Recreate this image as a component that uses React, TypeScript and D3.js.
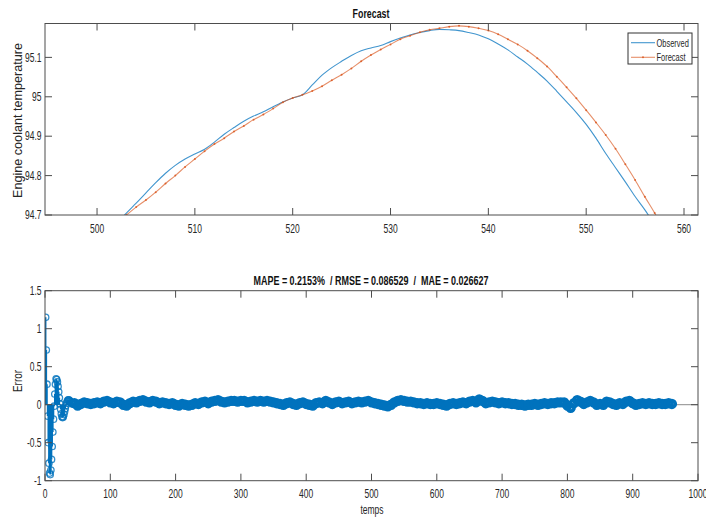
import React from 'react';
import * as d3 from 'd3';

const topTitle = 'Forecast';
const topYLabel = 'Engine coolant temperature';
const bottomTitle = 'MAPE = 0.2153%  / RMSE = 0.086529  /  MAE = 0.026627';
const bottomXLabel = 'temps';
const bottomYLabel = 'Error';
const legendLabels = ['Observed', 'Forecast'];

const topXTicks = [500, 510, 520, 530, 540, 550, 560];
const topYTicks = [94.7, 94.8, 94.9, 95, 95.1];
const topYTickLabels = ['94.7', '94.8', '94.9', '95', '95.1'];
const botXTicks = [0, 100, 200, 300, 400, 500, 600, 700, 800, 900, 1000];
const botYTicks = [-1, -0.5, 0, 0.5, 1, 1.5];
const botYTickLabels = ['-1', '-0.5', '0', '0.5', '1', '1.5'];

// Observed, x = 502 .. 557
const obsStart = 502;
const observed = [
  94.678, 94.705, 94.73, 94.756, 94.782, 94.806, 94.826, 94.842, 94.855, 94.867,
  94.885, 94.905, 94.922, 94.938, 94.951, 94.962, 94.975, 94.987, 94.997, 95.005,
  95.03, 95.055, 95.074, 95.09, 95.105, 95.117, 95.124, 95.13, 95.14, 95.149,
  95.157, 95.163, 95.168, 95.171, 95.17, 95.168, 95.163, 95.157, 95.147, 95.134,
  95.119, 95.101, 95.083, 95.062, 95.04, 95.014, 94.987, 94.96, 94.93, 94.895,
  94.856, 94.82, 94.784, 94.747, 94.713, 94.675,
];

// Forecast, x = 502 .. 558
const fcStart = 502;
const forecast = [
  94.68, 94.7, 94.72, 94.738, 94.758, 94.78, 94.8, 94.822, 94.842, 94.862,
  94.88, 94.895, 94.912, 94.926, 94.942, 94.955, 94.97, 94.986, 94.997, 95.005,
  95.015, 95.027, 95.042, 95.056, 95.072, 95.09, 95.106, 95.12, 95.133, 95.146,
  95.155, 95.164, 95.17, 95.174, 95.178, 95.18, 95.178, 95.174, 95.168, 95.159,
  95.146, 95.133, 95.117, 95.098, 95.077, 95.051, 95.024, 94.996, 94.966, 94.935,
  94.903, 94.868, 94.829, 94.789, 94.746, 94.705, 94.66,
];

// Error: x = 1 .. 44 (every sample)
const errHeadStart = 1;
const errHead = [
  1.15, 0.72, 0.27, -0.15, -0.5, -0.77, -0.9, -0.92, -0.86, -0.72,
  -0.55, -0.36, -0.19, -0.02, 0.14, 0.27, 0.34, 0.33, 0.3, 0.24,
  0.17, 0.09, 0.01, -0.06, -0.12, -0.16, -0.17, -0.16, -0.13, -0.09,
  -0.05, -0.01, 0.02, 0.045, 0.06, 0.065, 0.06, 0.05, 0.04, 0.03,
  0.02, 0.01, 0.01, 0.015,
];
// Error: x = 45, 50, ..., 960
const errTailStart = 45;
const errTailStep = 5;
const errTail = [
  0.02, -0.01, 0.01, 0.03, 0.02, 0.01, 0.02, 0.03, 0.02, 0.04,
  0.05, 0.03, 0.02, 0.04, 0.03, 0.0, -0.01, 0.02, 0.04, 0.03,
  0.05, 0.06, 0.04, 0.03, 0.05, 0.04, 0.02, 0.03, 0.02, 0.01,
  0.02, 0.0, -0.01, 0.01, 0.0, -0.01, 0.0, 0.02, 0.01, 0.03,
  0.04, 0.02, 0.04, 0.05, 0.06, 0.04, 0.03, 0.04, 0.05, 0.05,
  0.04, 0.05, 0.05, 0.03, 0.04, 0.05, 0.04, 0.05, 0.04, 0.05,
  0.04, 0.03, 0.02, 0.01, 0.0, 0.02, 0.03, 0.01, 0.0, 0.02,
  0.03, 0.01, 0.0, -0.01, 0.02, 0.03, 0.02, 0.05, 0.03, 0.01,
  0.03, 0.04, 0.02, 0.03, 0.04, 0.02, 0.03, 0.04, 0.03, 0.04,
  0.05, 0.03, 0.02, 0.01, 0.0, -0.01, -0.02, 0.0, 0.03, 0.05,
  0.06, 0.05, 0.04, 0.04, 0.03, 0.02, 0.02, 0.01, 0.02, 0.01,
  0.01, 0.02, 0.01, 0.0, -0.01, 0.01, 0.02, 0.01, 0.02, 0.03,
  0.02, 0.04, 0.05, 0.03, 0.07, 0.05, 0.02, 0.03, 0.04, 0.03,
  0.02, 0.03, 0.02, 0.02, 0.01, 0.01, 0.0, 0.0, -0.01, 0.0,
  0.0, 0.01, 0.0, 0.01, 0.02, 0.01, 0.02, 0.02, 0.03, 0.03,
  0.03, -0.01, -0.04, 0.02, 0.06, 0.04, 0.01, 0.03, 0.05, 0.03,
  0.0, 0.01, 0.0, 0.04, 0.03, 0.01, 0.0, 0.02, 0.01, 0.04,
  0.05, 0.02, 0.0, 0.01, 0.02, 0.01, 0.02, 0.01, 0.01, 0.02,
  0.01, 0.01, 0.02, 0.01,
];

const BLUE = '#0072BD';
const ORANGE = '#D95319';
const AXIS = '#4d4d4d';
const FONT = '"Liberation Sans", Arial, Helvetica, sans-serif';
const SX = 0.68;

type TP = {
  x: number; y: number; text: string; anchor?: string; size?: number;
  weight?: string | number; sx?: number; color?: string;
};
function HText({ x, y, text, anchor = 'middle', size = 12.5, weight = 'normal', sx = SX, color = '#262626' }: TP) {
  return (
    <text
      transform={`translate(${x},${y}) scale(${sx},1)`}
      textAnchor={anchor}
      fontFamily={FONT}
      fontSize={size}
      fontWeight={weight}
      fill={color}
      style={{ whiteSpace: 'pre' }}
    >
      {text}
    </text>
  );
}
function VText({ x, y, text, size = 12.5, len }: { x: number; y: number; text: string; size?: number; len: number }) {
  return (
    <text
      transform={`translate(${x},${y}) rotate(-90)`}
      textAnchor="middle"
      fontFamily={FONT}
      fontSize={size}
      fill="#262626"
      textLength={len}
      lengthAdjust="spacingAndGlyphs"
    >
      {text}
    </text>
  );
}

const L = 45, R = 698;
const T1 = 23.5, B1 = 215;
const T2 = 290.7, B2 = 480.7;
const TICK = 7;

export default function App() {
  const xTop = d3.scaleLinear().domain([494.68, 561.43]).range([L, R]);
  const yTop = d3.scaleLinear().domain([94.7, 95.186]).range([B1, T1]);
  const xBot = d3.scaleLinear().domain([0, 1000]).range([L, R]);
  const yBot = d3.scaleLinear().domain([-1, 1.5]).range([B2, T2]);

  const obsPts: [number, number][] = observed.map((v, i) => [obsStart + i, v]);
  const fcPts: [number, number][] = forecast.map((v, i) => [fcStart + i, v]);
  const lineTop = d3
    .line<[number, number]>()
    .x((d) => xTop(d[0]))
    .y((d) => yTop(d[1]))
    .curve(d3.curveMonotoneX);

  const headPts: [number, number][] = errHead.map((v, i) => [errHeadStart + i, v]);
  const tailPts: [number, number][] = errTail.map((v, i) => [errTailStart + i * errTailStep, v]);

  const frame = (top: number, bottom: number) => (
    <rect x={L} y={top} width={R - L} height={bottom - top} fill="none" stroke={AXIS} strokeWidth={1} />
  );

  return (
    <svg width={706} height={517} style={{ position: 'absolute', left: 0, top: 0, background: '#fff' }}>
      <rect x={0} y={0} width={706} height={517} fill="#fff" />
      <defs>
        <clipPath id="clipTop">
          <rect x={L} y={T1} width={R - L} height={B1 - T1} />
        </clipPath>
        <clipPath id="clipBot">
          <rect x={L} y={T2} width={R - L} height={B2 - T2} />
        </clipPath>
      </defs>

      {/* ---------- Top plot ---------- */}
      <g clipPath="url(#clipTop)">
        <path d={lineTop(obsPts) || ''} fill="none" stroke={BLUE} strokeWidth={1.1} strokeOpacity={0.75} />
        <path d={lineTop(fcPts) || ''} fill="none" stroke={ORANGE} strokeWidth={1.1} strokeOpacity={0.65} />
        {fcPts.map((d, i) => (
          <circle key={i} cx={xTop(d[0])} cy={yTop(d[1])} r={1} fill={ORANGE} fillOpacity={0.8} />
        ))}
      </g>
      {frame(T1, B1)}
      {topXTicks.map((t) => (
        <g key={'tx' + t}>
          <line x1={xTop(t)} x2={xTop(t)} y1={B1} y2={B1 - TICK} stroke={AXIS} />
          <line x1={xTop(t)} x2={xTop(t)} y1={T1} y2={T1 + TICK} stroke={AXIS} />
          <HText x={xTop(t)} y={233} text={String(t)} />
        </g>
      ))}
      {topYTicks.map((t, i) => (
        <g key={'ty' + t}>
          <line x1={L} x2={L + TICK} y1={yTop(t)} y2={yTop(t)} stroke={AXIS} />
          <line x1={R} x2={R - TICK} y1={yTop(t)} y2={yTop(t)} stroke={AXIS} />
          <HText x={41.5} y={yTop(t) + 4.3} text={topYTickLabels[i]} anchor="end" />
        </g>
      ))}
      <HText x={371} y={18} text={topTitle} size={13} weight="bold" color="#111" />
      <VText x={22} y={120.5} text={topYLabel} size={12.5} len={155} />

      {/* legend */}
      <rect x={628} y={33} width={64} height={31} fill="#fff" stroke="#333" strokeWidth={1} />
      <line x1={631} x2={655} y1={42.7} y2={42.7} stroke={BLUE} strokeWidth={1.1} strokeOpacity={0.75} />
      <line x1={631} x2={655} y1={57.3} y2={57.3} stroke={ORANGE} strokeWidth={1.1} strokeOpacity={0.65} />
      <circle cx={643} cy={57.3} r={1} fill={ORANGE} fillOpacity={0.8} />
      <HText x={656.5} y={46.5} text={legendLabels[0]} anchor="start" size={11} />
      <HText x={656.5} y={61} text={legendLabels[1]} anchor="start" size={11} />

      {/* ---------- Bottom plot (stem) ---------- */}
      <g clipPath="url(#clipBot)">
        <line x1={L} x2={R} y1={yBot(0)} y2={yBot(0)} stroke="#8c8c8c" strokeWidth={1} />
        {headPts.map((d, i) => (
          <line key={'hs' + i} x1={xBot(d[0])} x2={xBot(d[0])} y1={yBot(0)} y2={yBot(d[1])} stroke={BLUE} strokeWidth={1.6} />
        ))}
        {tailPts.map((d, i) => (
          <line key={'ts' + i} x1={xBot(d[0])} x2={xBot(d[0])} y1={yBot(0)} y2={yBot(d[1])} stroke={BLUE} strokeWidth={1.2} />
        ))}
        {headPts.map((d, i) => (
          <circle key={'hc' + i} cx={xBot(d[0])} cy={yBot(d[1])} r={3.2} fill="none" stroke={BLUE} strokeWidth={1.3} strokeOpacity={0.8} />
        ))}
        {tailPts.map((d, i) => (
          <circle key={'tc' + i} cx={xBot(d[0])} cy={yBot(d[1])} r={3.4} fill="none" stroke={BLUE} strokeWidth={3.6} />
        ))}
      </g>
      {frame(T2, B2)}
      {botXTicks.map((t) => (
        <g key={'bx' + t}>
          <line x1={xBot(t)} x2={xBot(t)} y1={B2} y2={B2 - TICK} stroke={AXIS} />
          <line x1={xBot(t)} x2={xBot(t)} y1={T2} y2={T2 + TICK} stroke={AXIS} />
          <HText x={xBot(t)} y={498} text={String(t)} />
        </g>
      ))}
      {botYTicks.map((t, i) => (
        <g key={'by' + t}>
          <line x1={L} x2={L + TICK} y1={yBot(t)} y2={yBot(t)} stroke={AXIS} />
          <line x1={R} x2={R - TICK} y1={yBot(t)} y2={yBot(t)} stroke={AXIS} />
          <HText x={41.5} y={yBot(t) + 4.3} text={botYTickLabels[i]} anchor="end" />
        </g>
      ))}
      <text
        x={371}
        y={285}
        textAnchor="middle"
        fontFamily={FONT}
        fontSize={13}
        fontWeight="bold"
        fill="#111"
        textLength={235}
        lengthAdjust="spacingAndGlyphs"
        style={{ whiteSpace: 'pre' }}
      >
        {bottomTitle}
      </text>
      <HText x={372} y={513.5} text={bottomXLabel} />
      <VText x={22} y={381} text={bottomYLabel} size={12.5} len={22} />
    </svg>
  );
}
